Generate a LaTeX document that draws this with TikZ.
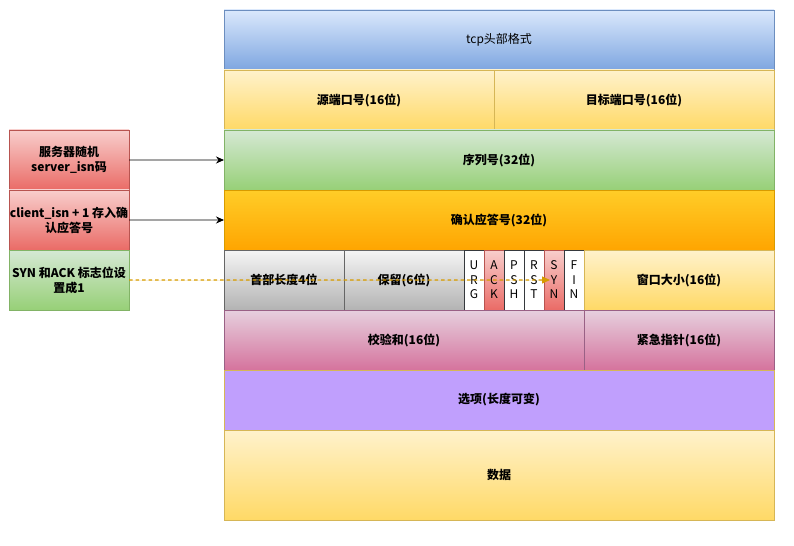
\documentclass[tikz,border=0pt]{standalone}
\usepackage{fontspec}
\setmainfont{Noto Sans CJK SC}
\usepackage{xcolor}
\usepackage{tikz}
\usetikzlibrary{arrows.meta,positioning}

\definecolor{blueA}{HTML}{DAE8FC}\definecolor{blueB}{HTML}{7EA6E0}\definecolor{blueL}{HTML}{6C8EBF}
\definecolor{yelA}{HTML}{FFF2CC}\definecolor{yelB}{HTML}{FFD966}\definecolor{yelL}{HTML}{D6B656}
\definecolor{grnA}{HTML}{D5E8D4}\definecolor{grnB}{HTML}{97D077}\definecolor{grnL}{HTML}{82B366}
\definecolor{orgA}{HTML}{FFCD28}\definecolor{orgB}{HTML}{FFA500}\definecolor{orgL}{HTML}{D79B00}
\definecolor{gryA}{HTML}{F5F5F5}\definecolor{gryB}{HTML}{B3B3B3}\definecolor{gryL}{HTML}{666666}
\definecolor{redA}{HTML}{F8CECC}\definecolor{redB}{HTML}{EA6B66}\definecolor{redL}{HTML}{B85450}
\definecolor{pnkA}{HTML}{E6D0DE}\definecolor{pnkB}{HTML}{D5739D}\definecolor{pnkL}{HTML}{996185}
\definecolor{purF}{HTML}{C09FFD}
\definecolor{flagL}{HTML}{36393D}

\begin{document}
\begin{tikzpicture}[
  x=1bp,y=-1bp,
  font=\fontsize{12bp}{15bp}\selectfont\bfseries,
  field/.style={rectangle,draw,align=center,inner sep=0pt,outer sep=0pt,line width=0.75bp,minimum height=60bp},
  hdr/.style={field,top color=blueA,bottom color=blueB,draw=blueL,font=\fontsize{12bp}{15bp}\selectfont},
  yel/.style={field,top color=yelA,bottom color=yelB,draw=yelL},
  grn/.style={field,top color=grnA,bottom color=grnB,draw=grnL},
  org/.style={field,top color=orgA,bottom color=orgB,draw=orgL},
  gry/.style={field,top color=gryA,bottom color=gryB,draw=gryL},
  red/.style={field,top color=redA,bottom color=redB,draw=redL},
  pnk/.style={field,top color=pnkA,bottom color=pnkB,draw=pnkL},
  pur/.style={field,fill=purF,draw=yelL},
  flag/.style={field,minimum width=20bp,fill=white,draw=flagL,font=\fontsize{12bp}{14.5bp}\selectfont},
  redflag/.style={flag,top color=redA,bottom color=redB,draw=redL},
  note/.style={field,minimum width=120bp},
  arr/.style={-{Stealth[length=8bp,width=7bp]},line width=0.9bp},
  hint/.style={-{Triangle[length=8bp,width=7bp]},line width=1.1bp,draw=orgL,fill=orgL,dash pattern=on 3.5bp off 3bp}
]
\useasboundingbox (0,0) rectangle (794,546);
% header fields
\node[hdr,minimum width=550bp,anchor=north west] (title) at (224,10) {tcp头部格式};
\node[yel,minimum width=270bp,below right=0pt and 0pt of title.south west] (srcport) {源端口号(16位)};
\node[yel,minimum width=280bp,right=0pt of srcport] (dstport) {目标端口号(16位)};
\node[grn,minimum width=550bp,below right=0pt and 0pt of srcport.south west] (seq) {序列号(32位)};
\node[org,minimum width=550bp,below=0pt of seq] (ack) {确认应答号(32位)};
\node[gry,minimum width=120bp,below right=0pt and 0pt of ack.south west] (hlen) {首部长度4位};
\node[gry,minimum width=120bp,right=0pt of hlen] (resv) {保留(6位)};
\node[flag,right=0pt of resv] (urg) {\mdseries U\\R\\G};
\node[redflag,right=0pt of urg] (ackf) {\mdseries A\\C\\K};
\node[flag,right=0pt of ackf] (psh) {\mdseries P\\S\\H};
\node[flag,right=0pt of psh] (rst) {\mdseries R\\S\\T};
\node[redflag,right=0pt of rst] (syn) {\mdseries S\\Y\\N};
\node[flag,right=0pt of syn] (fin) {\mdseries F\\I\\N};
\node[yel,minimum width=190bp,right=0pt of fin] (win) {窗口大小(16位)};
\node[pnk,minimum width=360bp,below right=0pt and 0pt of hlen.south west] (csum) {校验和(16位)};
\node[pnk,minimum width=190bp,right=0pt of csum] (urgptr) {紧急指针(16位)};
\node[pur,minimum width=550bp,below right=0pt and 0pt of csum.south west] (opts) {选项(长度可变)};
\node[yel,minimum width=550bp,minimum height=90bp,below=0pt of opts] (data) {数据};
% notes on the left
\node[red,note,anchor=north west] (isn) at (9,130) {服务器随机\\server\_isn码};
\node[red,note,below=0pt of isn] (ackno) {client\_isn + 1 存入确\\认应答号};
\node[grn,note,below=0pt of ackno] (flagset) {SYN 和ACK 标志位设\\置成1};
\draw[arr] (isn) -- (seq);
\draw[arr] (ackno) -- (ack);
\draw[hint] (flagset.east) -- ([xshift=6bp]syn.west);
\end{tikzpicture}
\end{document}
